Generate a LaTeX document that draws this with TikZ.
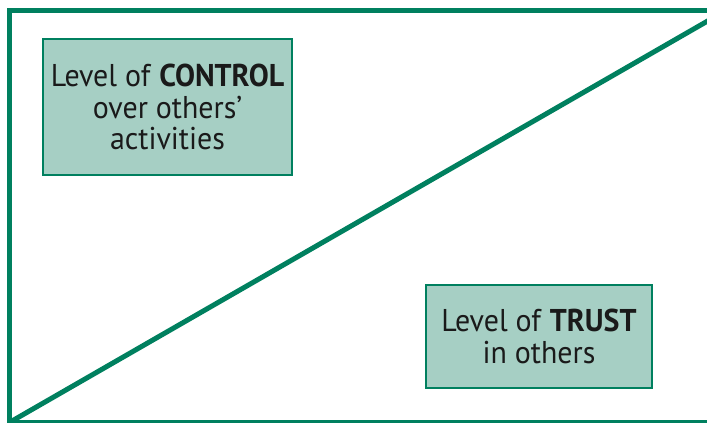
\documentclass[tikz,border=0pt]{standalone}
\usepackage{fontspec}
\setmainfont{PT Sans}[FakeStretch=0.95]
\definecolor{fgreen}{HTML}{00805F}
\definecolor{ffill}{HTML}{A6CFC4}
\definecolor{ftext}{HTML}{1A1A1A}
\begin{document}
\begin{tikzpicture}[x=1pt,y=1pt,
  lbl/.style={draw=fgreen,line width=2.5pt,fill=ffill,align=center,text=ftext,
    font=\fontsize{31.5}{31.5}\selectfont,inner sep=0pt}]
\useasboundingbox (0,0) rectangle (707,423);
\begin{scope}
\clip (0,0) rectangle (707,423);
\coordinate (tl) at (9.5,412.5);
\coordinate (bl) at (9.5,0);
\coordinate (tr) at (712,412.5);
\coordinate (br) at (712,1.5);
\coordinate (dstart) at (12,2);
\coordinate (dend) at (712,404.5);
\draw[fgreen,line width=5pt] (bl) -- (tl) -- (tr);
\draw[fgreen,line width=3pt] (9.5,1.5) -- (br);
\draw[fgreen,line width=5pt] (dstart) -- (dend);
\end{scope}
\node[lbl,minimum width=249pt,minimum height=136pt] (ctrl) at (167.5,316)
  {Level of \textbf{CONTROL}\\over others’\\activities};
\node[lbl,minimum width=226pt,minimum height=103pt] (trust) at (539,86.5)
  {Level of \textbf{TRUST}\\in others};
\end{tikzpicture}
\end{document}
